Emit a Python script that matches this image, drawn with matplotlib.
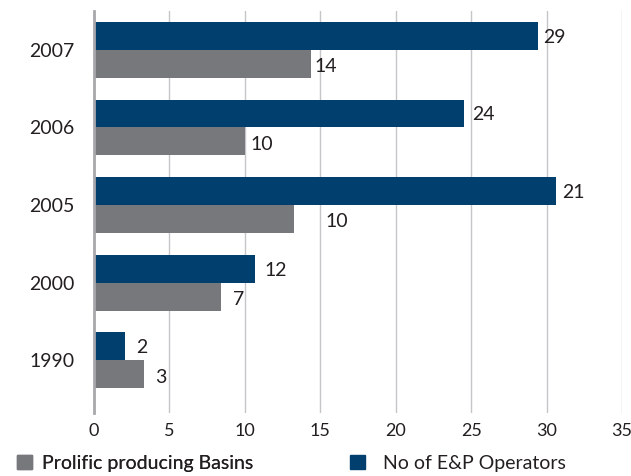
import numpy as np
import matplotlib
matplotlib.use("Agg")
import matplotlib.pyplot as plt
from matplotlib.patches import Patch

plt.rcParams['font.family'] = ['Lato', 'DejaVu Sans']

years = ["1990", "2000", "2005", "2006", "2007"]
# bar lengths as drawn in the picture
operators = [2.04, 10.67, 30.6, 24.5, 29.4]
basins = [3.3, 8.4, 13.25, 10.0, 14.36]
# printed value labels (differ from the drawn lengths)
operator_labels = ["2", "12", "21", "24", "29"]
basin_labels = ["3", "7", "10", "10", "14"]

blue = "#013F6F"
grey = "#77787B"
txt = "#231F20"

fig = plt.figure(figsize=(6.31, 4.76), dpi=100)
ax = fig.add_axes([0.149, 0.1324, 0.8368, 0.8445])

y = np.arange(len(years))
h = 0.36
ax.barh(y + h / 2, operators, height=h, color=blue, zorder=3)
ax.barh(y - h / 2, basins, height=h, color=grey, zorder=3)

# label offsets in points (one label sits away from its bar)
op_off = [8, 7, 5, 6, 4]
ba_off = [8, 9, 23, 4, 3]
for i in range(len(years)):
    ax.annotate(operator_labels[i], (operators[i], y[i] + h / 2),
                xytext=(op_off[i], -1), textcoords="offset points",
                va="center", ha="left", fontsize=14, color=txt)
    ax.annotate(basin_labels[i], (basins[i], y[i] - h / 2),
                xytext=(ba_off[i], -2), textcoords="offset points",
                va="center", ha="left", fontsize=14, color=txt)

ax.set_xlim(0, 35)
ax.set_ylim(-0.677, 4.5)
ax.set_xticks(range(0, 36, 5))
ax.set_yticks(y)
ax.set_yticklabels(years)
ax.tick_params(axis="both", length=0, labelcolor=txt)
ax.tick_params(axis="y", pad=14, labelsize=14)
ax.tick_params(axis="x", pad=7, labelsize=13)

ax.grid(axis="x", color="#C6C6CA", linewidth=1.0, zorder=0)
for s in ["top", "right", "bottom"]:
    ax.spines[s].set_visible(False)
ax.spines["left"].set_color("#A8A8AC")
ax.spines["left"].set_linewidth(2)
ax.spines["left"].set_zorder(4)

leg_kw = dict(frameon=False, fontsize=14, handlelength=0.75, handleheight=0.75,
              borderpad=0, borderaxespad=0, labelcolor=txt, loc="center left")
leg1 = fig.legend(handles=[Patch(color=grey, label="Prolific producing Basins")],
                  bbox_to_anchor=(0.027, 0.027), handletextpad=0.55, **leg_kw)
fig.add_artist(leg1)
fig.legend(handles=[Patch(color=blue, label="No of E&P Operators")],
           bbox_to_anchor=(0.555, 0.027), handletextpad=0.95, **leg_kw)

fig.savefig("out.png", dpi=100)
